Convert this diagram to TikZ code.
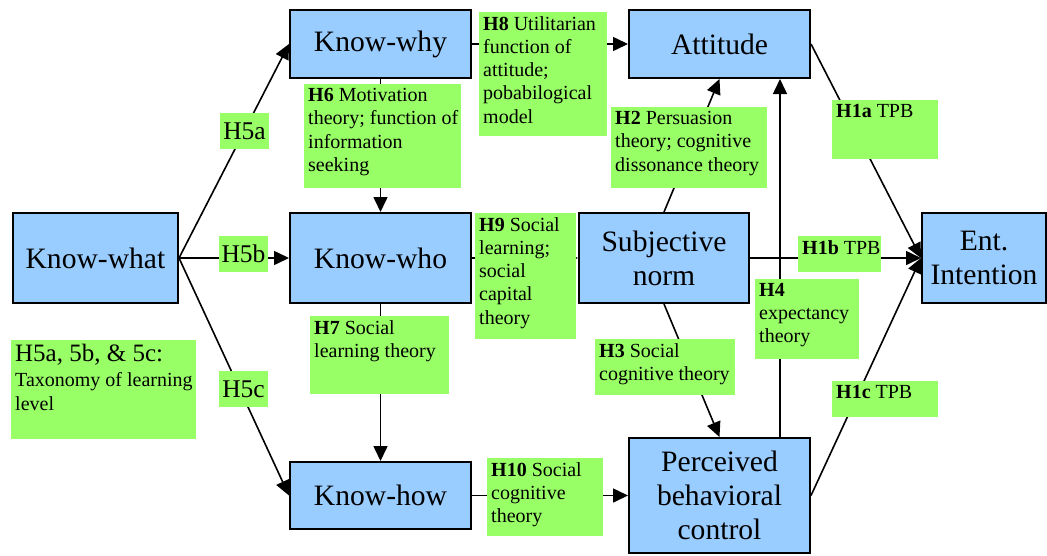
\documentclass[tikz,border=0pt]{standalone}
\usepackage{fontspec}
\setmainfont{LiberationSerif}[Extension=.ttf, UprightFont=*-Regular, BoldFont=*-Bold, ItalicFont=*-Italic, BoldItalicFont=*-BoldItalic]
\usetikzlibrary{arrows.meta,calc}
\definecolor{boxblue}{HTML}{99CCFF}
\definecolor{notegreen}{HTML}{99FF66}

% green hypothesis note: name, x1, y1, x2, y2, text (text set at the top left)
\newcommand{\hypnote}[6]{%
  \node[note, minimum width={#4-#2}, minimum height={#5-#3}] (#1) at (#2,#3) {};
  \node[notetext] (#1-text) at (#1.north west) {#6};
}

\begin{document}
\begin{tikzpicture}[x=1pt,y=-1pt,
  construct/.style={draw=black, line width=2pt, fill=boxblue, align=center,
    inner sep=0pt, font=\fontsize{29.6}{34}\selectfont},
  link/.style={line width=1.6pt, -{Triangle[length=15pt,width=14pt]}},
  note/.style={fill=notegreen, inner sep=0pt, anchor=north west},
  notetext/.style={anchor=north west, align=left, inner sep=4pt,
    font=\fontsize{20}{23.3}\selectfont},
  hyp/.style={fill=notegreen, inner sep=0pt, font=\fontsize{25.5}{30}\selectfont}
]
\useasboundingbox (0,0) rectangle (1047,555);

% constructs
\node[construct, minimum width=165, minimum height=90] (what) at (95.5,258) {Know-what};
\node[construct, minimum width=181, minimum height=68] (why) at (380.5,44) {Know-why};
\node[construct, minimum width=181, minimum height=90] (who) at (380.5,258) {Know-who};
\node[construct, minimum width=181, minimum height=67] (how) at (380.5,495.5) {Know-how};
\node[construct, minimum width=181, minimum height=68] (att) at (719.5,44) {Attitude};
\node[construct, minimum width=170, minimum height=90] (sn) at (664,258) {Subjective\\norm};
\node[construct, minimum width=181, minimum height=115] (pbc) at (719.5,495.5) {Perceived\\behavioral\\control};
\node[construct, minimum width=124, minimum height=90] (ent) at (984,258) {Ent.\\Intention};

% hypothesised paths
\draw[link] (what.east) -- (why.west);
\draw[link] (what.east) -- (who.west);
\draw[link] (what.east) -- (how.west);
\draw[link] (why.south) -- (who.north);
\draw[link] (who.south) -- (how.north);
\draw[link] (why.east) -- (att.west);
\draw[link] (who.east) -- (sn.west);
\draw[link] (how.east) -- (pbc.west);
\draw[link] (sn.north) -- (att.south);
\draw[link] (sn.south) -- (pbc.north);
\draw[link] ($(pbc.north)+(60.5,0)$) -- ($(att.south)+(60.5,0)$);
\draw[link] (att.east) -- (ent.west);
\draw[link] (sn.east) -- (ent.west);
\draw[link] (pbc.east) -- (ent.west);

% path labels
\node[hyp, minimum width=49, minimum height=36] (h5a) at (244.5,131) {H5a};
\node[hyp, minimum width=49, minimum height=36] (h5b) at (243.5,254) {H5b};
\node[hyp, minimum width=49, minimum height=36] (h5c) at (243.5,389) {H5c};

\hypnote{h5all}{11}{340}{196}{439}{{\fontsize{25}{29}\selectfont H5a, 5b, \& 5c:}\\[2pt]Taxonomy of learning\\level}
\hypnote{h6}{304}{84}{461}{188}{\textbf{H6} Motivation\\theory; function of\\information\\seeking}
\hypnote{h8}{479}{12}{607}{136}{\textbf{H8} Utilitarian\\function of\\attitude;\\pobabilogical\\model}
\hypnote{h2}{611}{107}{767}{188}{\textbf{H2} Persuasion\\theory; cognitive\\dissonance theory}
\hypnote{h1a}{832}{100}{938}{159}{\textbf{H1a} TPB}
\hypnote{h1b}{798}{236}{881}{272}{\textbf{H1b} TPB}
\hypnote{h4}{755}{279}{859}{359}{\textbf{H4}\\expectancy\\theory}
\hypnote{h9}{475}{213}{576}{339}{\textbf{H9} Social\\learning;\\social\\capital\\theory}
\hypnote{h3}{595}{339}{735}{395}{\textbf{H3} Social\\cognitive theory}
\hypnote{h7}{310}{316}{449}{394}{\textbf{H7} Social\\learning theory}
\hypnote{h10}{487}{458}{603}{536}{\textbf{H10} Social\\cognitive\\theory}
\hypnote{h1c}{832}{381}{938}{417}{\textbf{H1c} TPB}

\end{tikzpicture}
\end{document}
